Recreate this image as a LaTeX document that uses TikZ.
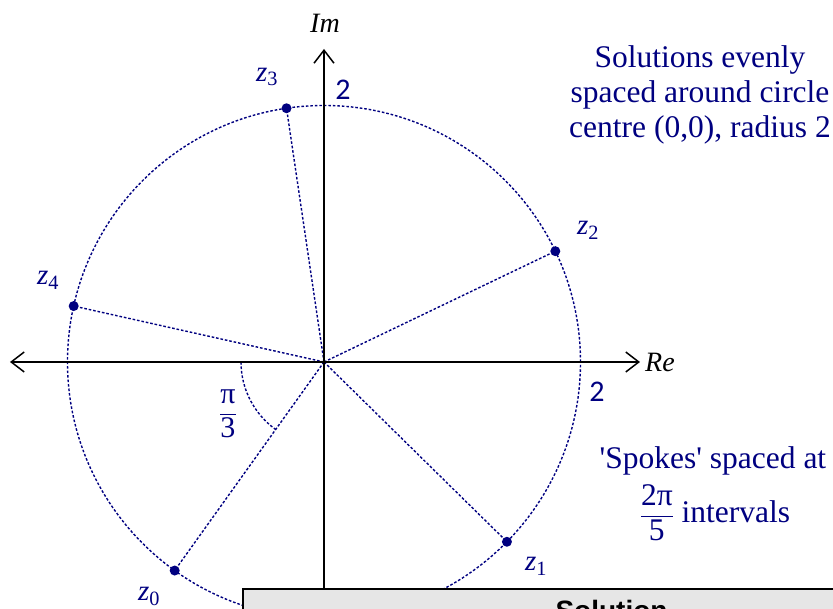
\documentclass[tikz,border=0pt]{standalone}
\usepackage{amsmath}
\usepackage{fontspec}
\setmainfont{Liberation Serif}[Ligatures=TeXOff]
\newfontfamily\numfont{Carlito}
\newfontfamily\headfont{Liberation Sans}
\usetikzlibrary{arrows.meta,positioning}
\definecolor{argNavy}{RGB}{0,0,128}
\definecolor{argGrey}{RGB}{230,230,230}

\begin{document}
\begin{tikzpicture}[
    x=1pt, y=1pt,
    axis/.style={line width=1.5pt, black},
    tip/.style={-{Straight Barb[length=13pt,width=20pt]}},
    spoke/.style={argNavy, line width=1.4pt, dash pattern=on 2.6pt off 1.9pt},
    dot/.style={circle, fill=argNavy, inner sep=0pt, minimum size=10pt},
    zlab/.style={text=argNavy, font=\fontsize{29}{32}\selectfont\itshape, inner sep=0pt},
    numlab/.style={text=argNavy, font=\numfont\fontsize{30}{34}\selectfont, inner sep=0pt},
    axlabel/.style={font=\fontsize{28}{31}\selectfont\itshape, inner sep=0pt},
    note/.style={text=argNavy, align=center, font=\fontsize{31.5}{35}\selectfont, inner sep=0pt},
    solbox/.style={rectangle, draw=black, line width=2.5pt, fill=argGrey, font=\headfont\bfseries\fontsize{28}{32}\selectfont}
]
    \useasboundingbox (-324,-247) rectangle (509,362);

    % circle of radius 2 and the five roots
    \coordinate (o) at (0,0);
    \draw[spoke] (o) circle (256.5);
    \node[dot] (z0) at (-125.6:256.5) {};
    \node[dot] (z1) at (-44.5:256.5) {};
    \node[dot] (z2) at (25.6:256.5) {};
    \node[dot] (z3) at (98.4:256.5) {};
    \node[dot] (z4) at (167.4:256.5) {};

    \draw[spoke] (o) -- (z0);
    \draw[spoke] (o) -- (z1);
    \draw[spoke] (o) -- (z2);
    \draw[spoke] (o) -- (z3);
    \draw[spoke] (o) -- (z4);
    \draw[spoke] ([shift={(180:83)}]o) arc[start angle=180, end angle=234.4, radius=83];

    \node[zlab] (l0) at (-175,-234) {z\textsubscript{\upshape 0}};
    \node[zlab] (l1) at (212,-204) {z\textsubscript{\upshape 1}};
    \node[zlab] (l2) at (264,132) {z\textsubscript{\upshape 2}};
    \node[zlab] (l3) at (-57,285) {z\textsubscript{\upshape 3}};
    \node[zlab] (l4) at (-276,82) {z\textsubscript{\upshape 4}};

    % axes
    \coordinate (west) at (-314,0);
    \coordinate (east) at (316,0);
    \coordinate (north) at (0,313);
    \coordinate (south) at (0,-247);
    \draw[axis, {Straight Barb[length=13pt,width=20pt]}-{Straight Barb[length=13pt,width=20pt]}] (west) -- (east);
    \draw[axis, tip] (south) -- (north);
    \node[axlabel, right=5pt of east] (re) {Re};
    \node[axlabel] (im) at (1,339) {Im};

    \node[numlab] (two1) at (19,272) {2};
    \node[numlab] (two2) at (273,-30) {2};
    \node[note, font=\fontsize{30}{33}\selectfont] (ang) at (-96,-52) {$\dfrac{\text{π}}{\text{3}}$};

    % notes
    \node[note] (sol) at (376,267) {Solutions evenly\\spaced around circle\\centre (0,0), radius 2};
    \node[note] (spk) at (389,-99) {'Spokes' spaced at};
    \node[note] (ivl) at (391,-151) {$\dfrac{\text{2π}}{\text{5}}$ intervals};

    \node[solbox, minimum width=737pt, minimum height=42pt] (soln) at (287.5,-248) {Solution};
\end{tikzpicture}
\end{document}
